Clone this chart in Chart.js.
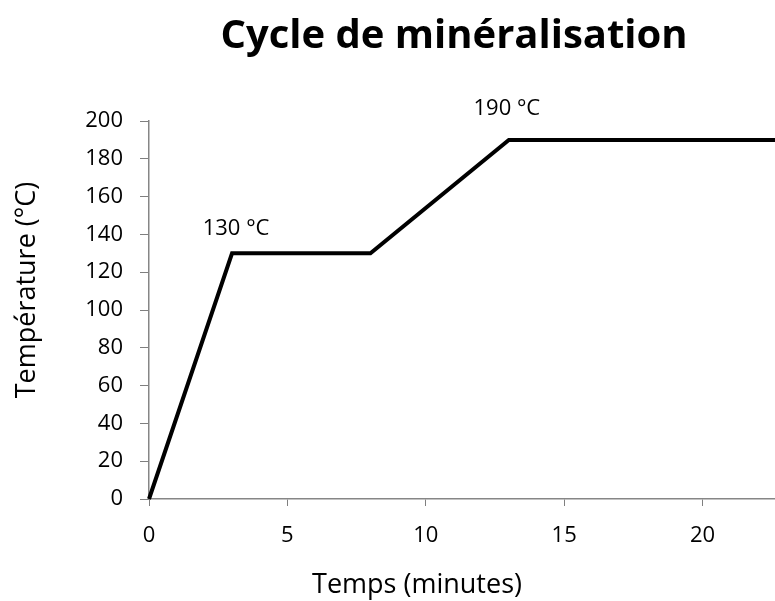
<!DOCTYPE html>
<html>
<head>
<meta charset="utf-8">
<script src="https://cdn.jsdelivr.net/npm/chart.js@4"></script>
<style>
html,body{margin:0;padding:0;background:#fff;overflow:hidden;}
#wrap{width:775px;height:601px;overflow:hidden;position:relative;}
canvas{display:block;}
</style>
</head>
<body>
<div id="wrap"><canvas id="c" width="908" height="601"></canvas></div>
<script>
const timeMinutes = [0, 3, 8, 13, 25];
const temperatureC = [0, 130, 130, 190, 190];
const pointLabels = ['', '130 °C', '', '190 °C', ''];
const chartTitle = 'Cycle de minéralisation';
const xTitle = 'Temps (minutes)';
const yTitle = 'Température (°C)';

const FONT = "'Open Sans', 'Liberation Sans', sans-serif";
const labelOffsets = [null, [4, -25], null, [-2, -31], null];

const labelPlugin = {
  id: 'pointLabels',
  afterDatasetsDraw(chart) {
    const ctx = chart.ctx;
    const xs = chart.scales.x, ys = chart.scales.y;
    ctx.save();
    ctx.font = '22px ' + FONT;
    ctx.fillStyle = '#000';
    ctx.textAlign = 'center';
    ctx.textBaseline = 'middle';
    pointLabels.forEach((t, i) => {
      if (!t) return;
      const px = xs.getPixelForValue(timeMinutes[i]);
      const py = ys.getPixelForValue(temperatureC[i]);
      const o = labelOffsets[i];
      ctx.fillText(t, px + o[0], py + o[1]);
    });
    ctx.restore();
  }
};

const titlePlugin = {
  id: 'customTitles',
  afterDraw(chart) {
    const ctx = chart.ctx;
    ctx.save();
    ctx.fillStyle = '#000';
    ctx.textAlign = 'center';
    ctx.font = 'bold 40px ' + FONT;
    ctx.textBaseline = 'middle';
    ctx.fillText(chartTitle, 454, 37);
    ctx.font = '27px ' + FONT;
    ctx.textBaseline = 'alphabetic';
    ctx.fillText(xTitle, 417, 593);
    ctx.translate(35, 290);
    ctx.rotate(-Math.PI / 2);
    ctx.fillText(yTitle, 0, 0);
    ctx.restore();
  }
};

new Chart(document.getElementById('c'), {
  type: 'line',
  data: {
    datasets: [{
      data: timeMinutes.map((x, i) => ({x: x, y: temperatureC[i]})),
      borderColor: '#000',
      borderWidth: 4,
      pointRadius: 0,
      tension: 0,
      fill: false,
      clip: false
    }]
  },
  options: {
    responsive: false,
    animation: false,
    layout: {padding: {left: 0, right: 67, top: 121, bottom: 0}},
    plugins: {legend: {display: false}, tooltip: {enabled: false}, title: {display: false}},
    scales: {
      x: {
        type: 'linear', min: 0, max: 25,
        ticks: {stepSize: 5, color: '#000', font: {family: FONT, size: 22}, padding: 17},
        grid: {display: true, drawOnChartArea: false, drawTicks: true, tickLength: 7, color: '#7f7f7f', lineWidth: 1},
        border: {display: true, color: '#868686', width: 1.5},
        title: {display: false},
        afterFit(s) { s.height = 102; }
      },
      y: {
        min: 0, max: 200,
        ticks: {stepSize: 20, color: '#000', font: {family: FONT, size: 22}, padding: 17},
        grid: {display: true, drawOnChartArea: false, drawTicks: true, tickLength: 9, color: '#7f7f7f', lineWidth: 1},
        border: {display: true, color: '#868686', width: 1.5},
        title: {display: false},
        afterFit(s) { s.width = 149; }
      }
    }
  },
  plugins: [labelPlugin, titlePlugin]
});
</script>
</body>
</html>
